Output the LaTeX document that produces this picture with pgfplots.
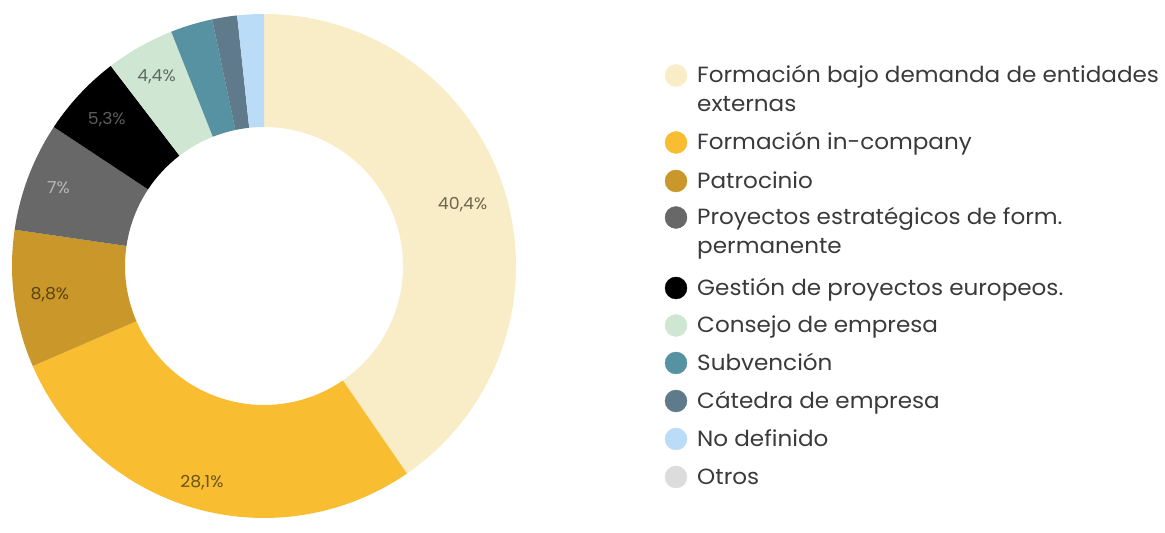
\documentclass[border=0pt]{standalone}
\usepackage{fontspec}
\setmainfont{Poppins}[FakeStretch=1.05]
\usepackage{pgfplots}
\usepackage{pgfplotstable}
\pgfplotsset{compat=1.18}
\definecolor{cA}{HTML}{F8EDC6}
\definecolor{cB}{HTML}{F9BD32}
\definecolor{cC}{HTML}{C9972A}
\definecolor{cD}{HTML}{686868}
\definecolor{cE}{HTML}{000000}
\definecolor{cF}{HTML}{CFE6D2}
\definecolor{cG}{HTML}{5792A3}
\definecolor{cH}{HTML}{5F7B8B}
\definecolor{cI}{HTML}{BBDCF6}
\definecolor{cJ}{HTML}{DCDCDC}
\definecolor{tA}{HTML}{6E6650}
\definecolor{tB}{HTML}{6B5418}
\definecolor{tC}{HTML}{5B4310}
\definecolor{tD}{HTML}{B8B8B8}
\definecolor{tE}{HTML}{5C5C5C}
\definecolor{tF}{HTML}{5E6A60}
\definecolor{legtext}{HTML}{3A3A3A}
\newcommand\pielabfont{\fontsize{16.5}{19}\selectfont}
\newcommand\legfont{\fontsize{22}{28}\selectfont}
\tikzset{leg/.style={anchor=base west, inner sep=0pt, font=\legfont, text=legtext}}
\pgfplotstableread{
value col tcol lab rad
40.4 cA tA 1 208
28.1 cB tB 1 225
8.8  cC tC 1 216
7    cD tD 1 220
5.3  cE tE 1 215
4.4  cF tF 1 218
2.7  cG tA 0 0
1.6  cH tA 0 0
1.7  cI tA 0 0
0    cJ tA 0 0
}\piedata
\def\cx{264}\def\cy{252}\def\Ro{252}\def\Ri{139}
\gdef\piecmds{}
\gdef\piecum{90}
\pgfplotstablegetrowsof{\piedata}
\pgfmathtruncatemacro\pierows{\pgfplotsretval-1}
\foreach \i in {0,...,\pierows}{%
  \pgfplotstablegetelem{\i}{value}\of\piedata \let\pV\pgfplotsretval
  \pgfplotstablegetelem{\i}{col}\of\piedata \let\pC\pgfplotsretval
  \pgfplotstablegetelem{\i}{tcol}\of\piedata \let\pT\pgfplotsretval
  \pgfplotstablegetelem{\i}{lab}\of\piedata \let\pL\pgfplotsretval
  \pgfplotstablegetelem{\i}{rad}\of\piedata \let\pR\pgfplotsretval
  \pgfmathsetmacro\pA{\piecum}%
  \pgfmathsetmacro\pB{\piecum-3.6*\pV}%
  \pgfmathsetmacro\pM{(\pA+\pB)/2}%
  \ifdim\pV pt>0pt
    \xdef\piecmds{\unexpanded\expandafter{\piecmds}%
      \noexpand\fill[\pC] ([shift={(\pA:\Ro pt)}]axis cs:\cx,\cy) arc[start angle=\pA, end angle=\pB, radius=\Ro pt] -- ([shift={(\pB:\Ri pt)}]axis cs:\cx,\cy) arc[start angle=\pB, end angle=\pA, radius=\Ri pt] -- cycle;}%
  \fi
  \ifnum\pL=1
    \xdef\piecmds{\unexpanded\expandafter{\piecmds}%
      \noexpand\node[text=\pT, font=\noexpand\pielabfont] at ([shift={(\pM:\pR pt)}]axis cs:\cx,\cy) {\noexpand\pgfmathprintnumber{\pV}\noexpand\%};}%
  \fi
  \xdef\piecum{\pB}%
}
% legend swatch positions (x, y of circle centre)
\pgfplotstableread{
x y col
676 442.5 cA
676 375.5 cB
676 337.0 cC
676 300.5 cD
676 230.0 cE
676 192.5 cF
676 155.0 cG
676 117.0 cH
676 79.0  cI
676 41.0  cJ
}\legdata
\begin{document}
\begin{tikzpicture}
\begin{axis}[
  x=1pt, y=1pt, xmin=0, xmax=1165, ymin=0, ymax=518,
  hide axis, clip=false,
  /pgf/number format/.cd, use comma, assume math mode=true, /pgfplots/.cd,
]
\path (axis cs:0,0) rectangle (axis cs:1165,518);
\piecmds
\addplot[scatter, only marks, mark=*, mark size=11pt,
  scatter src=explicit symbolic,
  scatter/classes={
    cA={draw=cA, fill=cA}, cB={draw=cB, fill=cB}, cC={draw=cC, fill=cC},
    cD={draw=cD, fill=cD}, cE={draw=cE, fill=cE}, cF={draw=cF, fill=cF},
    cG={draw=cG, fill=cG}, cH={draw=cH, fill=cH}, cI={draw=cI, fill=cI},
    cJ={draw=cJ, fill=cJ}}]
  table[x=x, y=y, meta=col] {\legdata};
\node[leg] at (axis cs:697,435) {Formación bajo demanda de entidades};
\node[leg] at (axis cs:697,406.5) {externas};
\node[leg] at (axis cs:697,368) {Formación in-company};
\node[leg] at (axis cs:697,329.5) {Patrocinio};
\node[leg] at (axis cs:697,293) {Proyectos estratégicos de form.};
\node[leg] at (axis cs:697,264.5) {permanente};
\node[leg] at (axis cs:697,222.5) {Gestión de proyectos europeos.};
\node[leg] at (axis cs:697,185) {Consejo de empresa};
\node[leg] at (axis cs:697,147.5) {Subvención};
\node[leg] at (axis cs:697,109.5) {Cátedra de empresa};
\node[leg] at (axis cs:697,71.5) {No definido};
\node[leg] at (axis cs:697,33.5) {Otros};
\end{axis}
\end{tikzpicture}
\end{document}
